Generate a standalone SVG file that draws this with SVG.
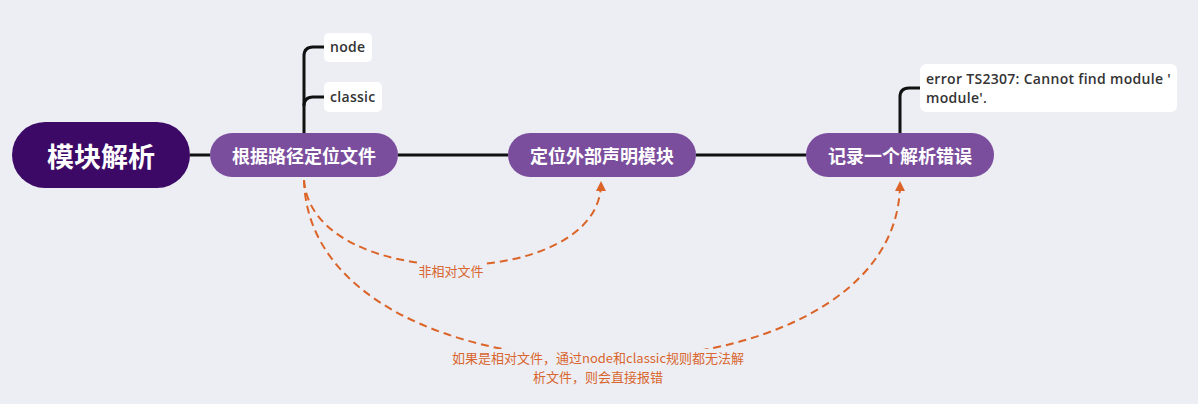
<svg xmlns="http://www.w3.org/2000/svg" width="1198" height="404" viewBox="0 0 1198 404">
<style>
.topic{fill:#7B4E9D}
.root{fill:#3C0A66}
.tt{font-family:"Noto Sans CJK SC","Noto Sans",sans-serif;font-weight:700;fill:#fff;text-anchor:middle;dominant-baseline:central}
.sub{fill:#fff}
.st{font-family:"Open Sans","Noto Sans",sans-serif;font-weight:600;font-size:14px;fill:#333;letter-spacing:0.3px}
.conn{fill:none;stroke:#111;stroke-width:3}
.rel{fill:none;stroke:#DC6428;stroke-width:2;stroke-dasharray:8 5}
.lbl{font-family:"Noto Sans CJK SC","Noto Sans",sans-serif;font-size:13px;fill:#D9662E;text-anchor:middle}
.lblbg{fill:#ECEEF4}
</style>
<defs>
<marker id="arr" viewBox="0 0 10 10" refX="8" refY="5" markerWidth="5" markerHeight="5" orient="auto">
<path d="M0,0 L10,5 L0,10 z" fill="#DC6428"/>
</marker>
</defs>
<rect width="1198" height="404" fill="#ECEEF4"/>
<g id="connectors">
<path class="conn" d="M190,155 L210,155"/>
<path class="conn" d="M398,155 L508,155"/>
<path class="conn" d="M696,155 L806,155"/>
<path class="conn" d="M304,133 L304,56 Q304,47 313,47 L324,47"/>
<path class="conn" d="M304,106 Q304,97 313,97 L324,97"/>
<path class="conn" d="M900,133 L900,97 Q900,88 909,88 L920,88"/>
<path class="rel" d="M304,180 C312,294 601,292 601,183" marker-end="url(#arr)"/>
<path class="rel" d="M304,180 C310,418 900,418 900,183" marker-end="url(#arr)"/>
</g>
<g id="label-rel1">
<rect class="lblbg" x="417" y="262" width="68" height="18"/>
<text class="lbl" x="451" y="276">非相对文件</text>
</g>
<g id="label-rel2">
<rect class="lblbg" x="448" y="349" width="300" height="37"/>
<text class="lbl" x="598" y="363">如果是相对文件，通过node和classic规则都无法解</text>
<text class="lbl" x="598" y="382">析文件，则会直接报错</text>
</g>
<g id="root">
<rect class="root" x="12" y="122" width="178" height="66" rx="33"/>
<text class="tt" x="101" y="155" font-size="27">模块解析</text>
</g>
<g id="node1">
<rect class="topic" x="210" y="133" width="188" height="44" rx="22"/>
<text class="tt" x="304" y="155" font-size="18">根据路径定位文件</text>
</g>
<g id="node2">
<rect class="topic" x="508" y="133" width="188" height="44" rx="22"/>
<text class="tt" x="602" y="155" font-size="18">定位外部声明模块</text>
</g>
<g id="node3">
<rect class="topic" x="806" y="133" width="188" height="44" rx="22"/>
<text class="tt" x="900" y="155" font-size="18">记录一个解析错误</text>
</g>
<g id="sub-node">
<rect class="sub" x="324" y="33" width="48" height="29" rx="5"/>
<text class="st" x="330" y="52">node</text>
</g>
<g id="sub-classic">
<rect class="sub" x="324" y="82" width="58" height="30" rx="5"/>
<text class="st" x="330" y="102">classic</text>
</g>
<g id="sub-error">
<rect class="sub" x="920" y="64" width="257" height="48" rx="6"/>
<text class="st" x="926" y="84">error TS2307: Cannot find module '</text>
<text class="st" x="926" y="103">module'.</text>
</g>
</svg>
